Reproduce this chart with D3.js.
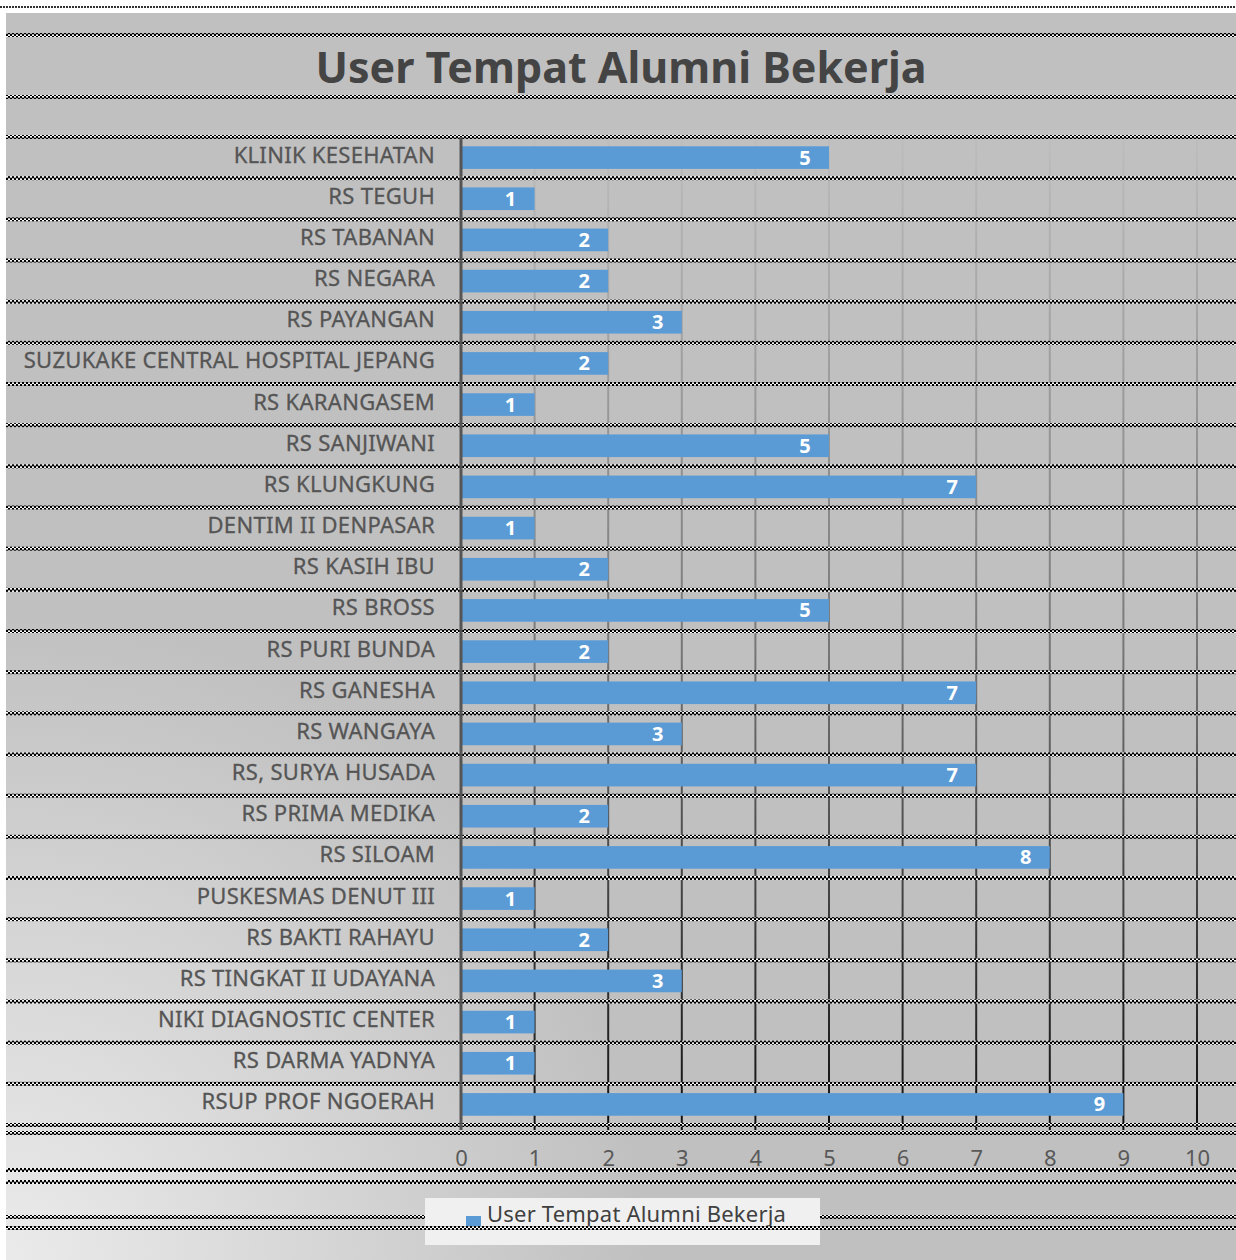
<!DOCTYPE html>
<html>
<head>
<meta charset="utf-8">
<script src="https://cdn.jsdelivr.net/npm/d3@7"></script>
<style>
  html, body { margin: 0; padding: 0; background: #fff; }
  svg { display: block; }
  text { font-family: "Noto Sans", "Open Sans", sans-serif; }
</style>
</head>
<body>
<div id="chart"></div>
<script>
// Chart data
const categories = [
  'KLINIK KESEHATAN', 'RS TEGUH', 'RS TABANAN', 'RS NEGARA', 'RS PAYANGAN',
  'SUZUKAKE CENTRAL HOSPITAL JEPANG', 'RS KARANGASEM', 'RS SANJIWANI', 'RS KLUNGKUNG',
  'DENTIM II DENPASAR', 'RS KASIH IBU', 'RS BROSS', 'RS PURI BUNDA', 'RS GANESHA',
  'RS WANGAYA', 'RS, SURYA HUSADA', 'RS PRIMA MEDIKA', 'RS SILOAM', 'PUSKESMAS DENUT III',
  'RS BAKTI RAHAYU', 'RS TINGKAT II UDAYANA', 'NIKI DIAGNOSTIC CENTER', 'RS DARMA YADNYA',
  'RSUP PROF NGOERAH',
];
const values = [5, 1, 2, 2, 3, 2, 1, 5, 7, 1, 2, 5, 2, 7, 3, 7, 2, 8, 1, 2, 3, 1, 1, 9];
const xTicks = [0, 1, 2, 3, 4, 5, 6, 7, 8, 9, 10];
const seriesName = 'User Tempat Alumni Bekerja';
const chartTitle = 'User Tempat Alumni Bekerja';

const W = 1236;
const H = 1260;
const margin = { top: 137, right: 39, bottom: 135, left: 461 };

const svg = d3.select('#chart').append('svg')
  .attr('width', W)
  .attr('height', H);

const defs = svg.append('defs');

// background gradient, lighter toward the bottom-left corner
const bg = defs.append('radialGradient')
  .attr('id', 'bg')
  .attr('gradientUnits', 'userSpaceOnUse')
  .attr('cx', 0).attr('cy', H)
  .attr('r', 650);
bg.append('stop').attr('offset', 0).attr('stop-color', '#ebebeb');
bg.append('stop').attr('offset', 1).attr('stop-color', '#c0c0c0');

// gridlines fade in from top to bottom
const gridGrad = defs.append('linearGradient')
  .attr('id', 'grid')
  .attr('gradientUnits', 'userSpaceOnUse')
  .attr('x1', 0).attr('y1', margin.top)
  .attr('x2', 0).attr('y2', H - margin.bottom);
gridGrad.append('stop').attr('offset', 0).attr('stop-color', '#bdbdbd');
gridGrad.append('stop').attr('offset', 0.5).attr('stop-color', '#7a7a7a');
gridGrad.append('stop').attr('offset', 1).attr('stop-color', '#111');

// zigzag dotted band
const zig = defs.append('pattern')
  .attr('id', 'zig')
  .attr('patternUnits', 'userSpaceOnUse')
  .attr('width', 4).attr('height', 4);
zig.append('rect').attr('width', 4).attr('height', 4).attr('fill', '#555');
zig.append('rect').attr('x', 0).attr('y', 0).attr('width', 2).attr('height', 2).attr('fill', '#000');
zig.append('rect').attr('x', 2).attr('y', 2).attr('width', 2).attr('height', 2).attr('fill', '#000');
zig.append('rect').attr('x', 2).attr('y', 0).attr('width', 2).attr('height', 1.5).attr('fill', '#fafafa');
zig.append('rect').attr('x', 0).attr('y', 2.5).attr('width', 2).attr('height', 1.5).attr('fill', '#fafafa');

const dots = defs.append('pattern')
  .attr('id', 'dots')
  .attr('patternUnits', 'userSpaceOnUse')
  .attr('width', 3).attr('height', 3);
dots.append('rect').attr('width', 2).attr('height', 2).attr('fill', '#333');

svg.append('rect')
  .attr('x', 6).attr('y', 13)
  .attr('width', W - 6).attr('height', H - 13)
  .attr('fill', 'url(#bg)');

svg.append('rect')
  .attr('x', 0).attr('y', 6)
  .attr('width', W).attr('height', 3)
  .attr('fill', 'url(#dots)');

// Scales
const x = d3.scaleLinear()
  .domain([0, 10])
  .range([margin.left, W - margin.right]);

const y = d3.scaleBand()
  .domain(categories)
  .range([margin.top, H - margin.bottom])
  .paddingInner(0.45)
  .paddingOuter(0.225);

const step = y.step();
const plotBottom = H - margin.bottom;

// Title
svg.append('text')
  .attr('x', 621)
  .attr('y', 83)
  .attr('text-anchor', 'middle')
  .attr('font-size', 43)
  .attr('font-weight', 700)
  .attr('fill', '#444')
  .text(chartTitle);

// Vertical gridlines
svg.append('g')
  .selectAll('line')
  .data(xTicks.slice(1))
  .enter()
  .append('line')
  .attr('x1', d => x(d)).attr('x2', d => x(d))
  .attr('y1', margin.top).attr('y2', plotBottom + 5)
  .attr('stroke', 'url(#grid)')
  .attr('stroke-width', 2);

// Bars
svg.append('g')
  .selectAll('rect')
  .data(values)
  .enter()
  .append('rect')
  .attr('x', x(0) + 1)
  .attr('y', (d, i) => y(categories[i]))
  .attr('width', d => x(d) - x(0) - 1)
  .attr('height', y.bandwidth())
  .attr('fill', '#5b9bd5');

// Value labels
svg.append('g')
  .selectAll('text')
  .data(values)
  .enter()
  .append('text')
  .attr('x', d => x(d) - 24)
  .attr('y', (d, i) => y(categories[i]) + y.bandwidth() / 2 + 7)
  .attr('text-anchor', 'middle')
  .attr('font-size', 20)
  .attr('font-weight', 700)
  .attr('fill', '#fff')
  .text(d => d);

// Zigzag bands at row boundaries plus extra ones
const rowLines = d3.range(categories.length + 1).map(i => margin.top + i * step - 2);
const extraLines = [33, 95, 1131, 1168, 1180, 1215, 1226];
svg.append('g')
  .selectAll('rect')
  .data(rowLines.concat(extraLines))
  .enter()
  .append('rect')
  .attr('x', 6)
  .attr('y', d => d)
  .attr('width', W - 6)
  .attr('height', 4)
  .attr('fill', 'url(#zig)');

// Category axis line
svg.append('line')
  .attr('x1', x(0)).attr('x2', x(0))
  .attr('y1', margin.top).attr('y2', plotBottom + 5)
  .attr('stroke', '#555')
  .attr('stroke-width', 3);

// Category labels
svg.append('g')
  .selectAll('text')
  .data(categories)
  .enter()
  .append('text')
  .attr('x', 435)
  .attr('y', d => y(d) + y.bandwidth() / 2 + 5)
  .attr('text-anchor', 'end')
  .attr('font-size', 22)
  .attr('letter-spacing', 0.3)
  .attr('fill', '#555')
  .attr('stroke', '#555')
  .attr('stroke-width', 0.3)
  .text(d => d);

// Value axis labels
const xAxis = d3.axisBottom(x)
  .tickValues(xTicks)
  .tickSize(0)
  .tickPadding(0);
const gx = svg.append('g')
  .attr('transform', `translate(0, ${plotBottom + 41})`)
  .call(xAxis);
gx.select('.domain').remove();
gx.selectAll('text')
  .attr('font-size', 22)
  .attr('font-family', '"Noto Sans", sans-serif')
  .attr('fill', '#595959')
  .attr('dy', 0);

// Legend
const legend = svg.append('g');
legend.append('rect')
  .attr('x', 425).attr('y', 1198)
  .attr('width', 395).attr('height', 47)
  .attr('fill', '#f0f0f0');
legend.append('rect')
  .attr('x', 466).attr('y', 1216)
  .attr('width', 15).attr('height', 14)
  .attr('fill', '#5b9bd5');
legend.append('text')
  .attr('x', 487).attr('y', 1222)
  .attr('font-size', 22)
  .attr('letter-spacing', 0.2)
  .attr('fill', '#404040')
  .text(seriesName);
// zigzag band running over the legend box
legend.append('rect')
  .attr('x', 6).attr('y', 1226)
  .attr('width', W - 6).attr('height', 4)
  .attr('fill', 'url(#zig)');
</script>
</body>
</html>
